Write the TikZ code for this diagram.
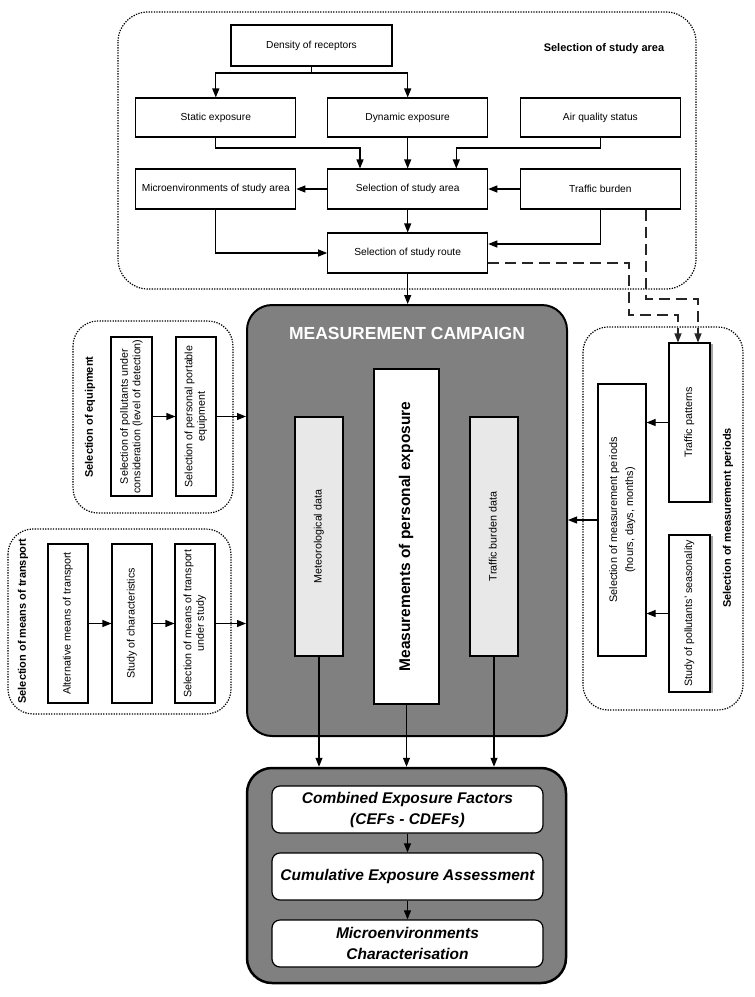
\documentclass[tikz,border=0pt]{standalone}
\usepackage{fontspec}
\setmainfont{Liberation Sans}
\usepackage{graphicx}
\usetikzlibrary{arrows.meta,shadows}
\definecolor{cgray}{RGB}{128,128,128}
\definecolor{lgray}{RGB}{232,232,232}
\newcommand{\vtext}[1]{\rotatebox{90}{\begin{tabular}{@{}c@{}}#1\end{tabular}}}
\begin{document}
\begin{tikzpicture}[x=1pt,y=-1pt,
  box/.style={draw, line width=1.1pt, fill=white, inner sep=0pt, align=center,
    font=\fontsize{10.2}{12}\selectfont},
  vbox/.style={box, font=\fontsize{10.7}{12.5}\selectfont},
  shbox/.style={vbox, drop shadow={shadow xshift=3pt, shadow yshift=-1pt, fill=black!35, opacity=1}},
  arr/.style={-{Triangle[length=9pt,width=7pt]}, line width=1.1pt},
  dasharr/.style={arr, dash pattern=on 11pt off 6pt, draw=black!85},
  group/.style={draw, line width=1.2pt, dash pattern=on 1.3pt off 1.3pt, rounded corners=25pt},
  glabel/.style={font=\bfseries\fontsize{11}{13}\selectfont},
  bigbox/.style={draw, fill=cgray, rounded corners=25pt, inner sep=0pt},
  resbox/.style={draw, fill=white, rounded corners=8pt, line width=1.2pt, inner sep=0pt, align=center,
    minimum width=271, minimum height=47, font=\bfseries\itshape\fontsize{15.5}{21}\selectfont}
]
\useasboundingbox (0,0) rectangle (755,997);

% ---------- group frames ----------
\draw[group, rounded corners=30pt] (118,12) rectangle (696,289);
\draw[group] (73,321) rectangle (233,513);
\draw[group] (8,529) rectangle (231,714);
\draw[group] (583,327) rectangle (743,710);

\node[glabel] (lblarea) at (604,49) {Selection of study area};
\node[glabel, rotate=90] (lbleq) at (90,417) {Selection of equipment};
\node[glabel, rotate=90] (lbltr) at (23,621) {Selection of means of transport};
\node[glabel, rotate=90] (lblper) at (728,518) {Selection of measurement periods};

% ---------- study area ----------
\node[box, minimum width=161, minimum height=41] (dens) at (311.5,45.5) {Density of receptors};
\node[box, minimum width=160, minimum height=39] (stat) at (215.8,117.5) {Static exposure};
\node[box, minimum width=160, minimum height=39] (dyn) at (407.7,117.5) {Dynamic exposure};
\node[box, minimum width=160, minimum height=39] (air) at (600.4,117.5) {Air quality status};
\node[box, minimum width=160, minimum height=40] (micro) at (215.8,189) {Microenvironments of study area};
\node[box, minimum width=160, minimum height=40] (area) at (407.7,189) {Selection of study area};
\node[box, minimum width=160, minimum height=40] (traf) at (600.4,189) {Traffic burden};
\node[box, minimum width=160, minimum height=40] (route) at (407.7,253) {Selection of study route};

\coordinate (j1) at (311.5,73);
\coordinate (j2) at (360,148);
\coordinate (j3) at (456.3,148);
\coordinate (j4) at (600.4,244);
\draw[line width=1.1pt] (dens.south) -- (j1);
\draw[arr] (j1) -| (stat.north);
\draw[arr] (j1) -| (dyn.north);
\draw[arr] (stat.south) |- (j2) -- (j2 |- area.north);
\draw[arr] (dyn.south) -- (area.north);
\draw[arr] (air.south) |- (j3) -- (j3 |- area.north);
\draw[arr] (area.west) -- (micro.east);
\draw[arr] (traf.west) -- (area.east);
\draw[arr] (area.south) -- (route.north);
\draw[arr] (micro.south) |- (route.west);
\draw[arr] (traf.south) -- (j4) -- (j4 -| route.east);

% ---------- measurement campaign ----------
\node[bigbox, line width=2pt, minimum width=320, minimum height=431] (camp) at (407,520.5) {};
\node[text=white, font=\bfseries\fontsize{17.5}{20}\selectfont] (title) at (407,333) {MEASUREMENT CAMPAIGN};
\node[vbox, fill=lgray, minimum width=48, minimum height=239] (met) at (319,536.5) {\vtext{Meteorological data}};
\node[box, minimum width=65, minimum height=335, font=\bfseries\fontsize{15.5}{18}\selectfont] (pers) at (406.5,536.5) {\vtext{Measurements of personal exposure}};
\node[vbox, fill=lgray, minimum width=48, minimum height=239] (tbd) at (494,536.5) {\vtext{Traffic burden data}};

\draw[arr] (route.south) -- (route.south |- camp.north);

% ---------- equipment ----------
\node[vbox, minimum width=41, minimum height=159] (eq1) at (131.5,416.5) {\vtext{Selection of pollutants under\\consideration (level of detection)}};
\node[vbox, minimum width=40, minimum height=159] (eq2) at (196,416.5) {\vtext{Selection of personal portable\\equipment}};
\draw[arr] (eq1.east) -- (eq2.west);
\draw[arr] (eq2.east) -- (eq2.east -| camp.west);

% ---------- transport ----------
\node[vbox, minimum width=40, minimum height=159] (tr1) at (68,623.5) {\vtext{Alternative means of transport}};
\node[vbox, minimum width=40, minimum height=159] (tr2) at (132,623.5) {\vtext{Study of characteristics}};
\node[vbox, minimum width=40, minimum height=159] (tr3) at (195,623.5) {\vtext{Selection of means of transport\\under study}};
\draw[arr] (tr1.east) -- (tr2.west);
\draw[arr] (tr2.east) -- (tr3.west);
\draw[arr] (tr3.east) -- (tr3.east -| camp.west);

% ---------- measurement periods ----------
\node[shbox, minimum width=41, minimum height=159] (tpat) at (689.5,422.5) {\vtext{Traffic patterns}};
\node[shbox, minimum width=41, minimum height=157] (seas) at (689.5,613.5) {\vtext{Study of pollutants' seasonality}};
\node[vbox, minimum width=48, minimum height=272, font=\fontsize{10.9}{16}\selectfont] (per) at (622,520) {\vtext{Selection of measurement periods\\(hours, days, months)}};
\draw[arr] (tpat.west) -- (tpat.west -| per.east);
\draw[arr] (seas.west) -- (seas.west -| per.east);
\draw[arr] (per.west) -- (per.west -| camp.east);

% ---------- dashed links ----------
\coordinate (d1) at (629,263);
\coordinate (d2) at (629,315);
\coordinate (d3) at (678,315);
\coordinate (d4) at (646,299);
\coordinate (d5) at (698,299);
\draw[dasharr] (d1 -| route.east) -- (d1) -- (d2) -- (d3) -- (d3 |- tpat.north);
\draw[dasharr] (d4 |- traf.south) -- (d4) -- (d5) -- (d5 |- tpat.north);

% ---------- results ----------
\node[bigbox, line width=2.5pt, minimum width=319, minimum height=215] (res) at (406.5,875.5) {};
\node[resbox] (cef) at (407.5,809.5) {Combined Exposure Factors\\(CEFs - CDEFs)};
\node[resbox] (cum) at (407.5,876.5) {Cumulative Exposure Assessment};
\node[resbox] (mic) at (407.5,943.5) {Microenvironments\\Characterisation};
\draw[arr] (cef.south) -- (cum.north);
\draw[arr] (cum.south) -- (mic.north);

\draw[arr] (met.south) -- (met.south |- res.north);
\draw[arr] (pers.south) -- (pers.south |- res.north);
\draw[arr] (tbd.south) -- (tbd.south |- res.north);
\end{tikzpicture}
\end{document}
